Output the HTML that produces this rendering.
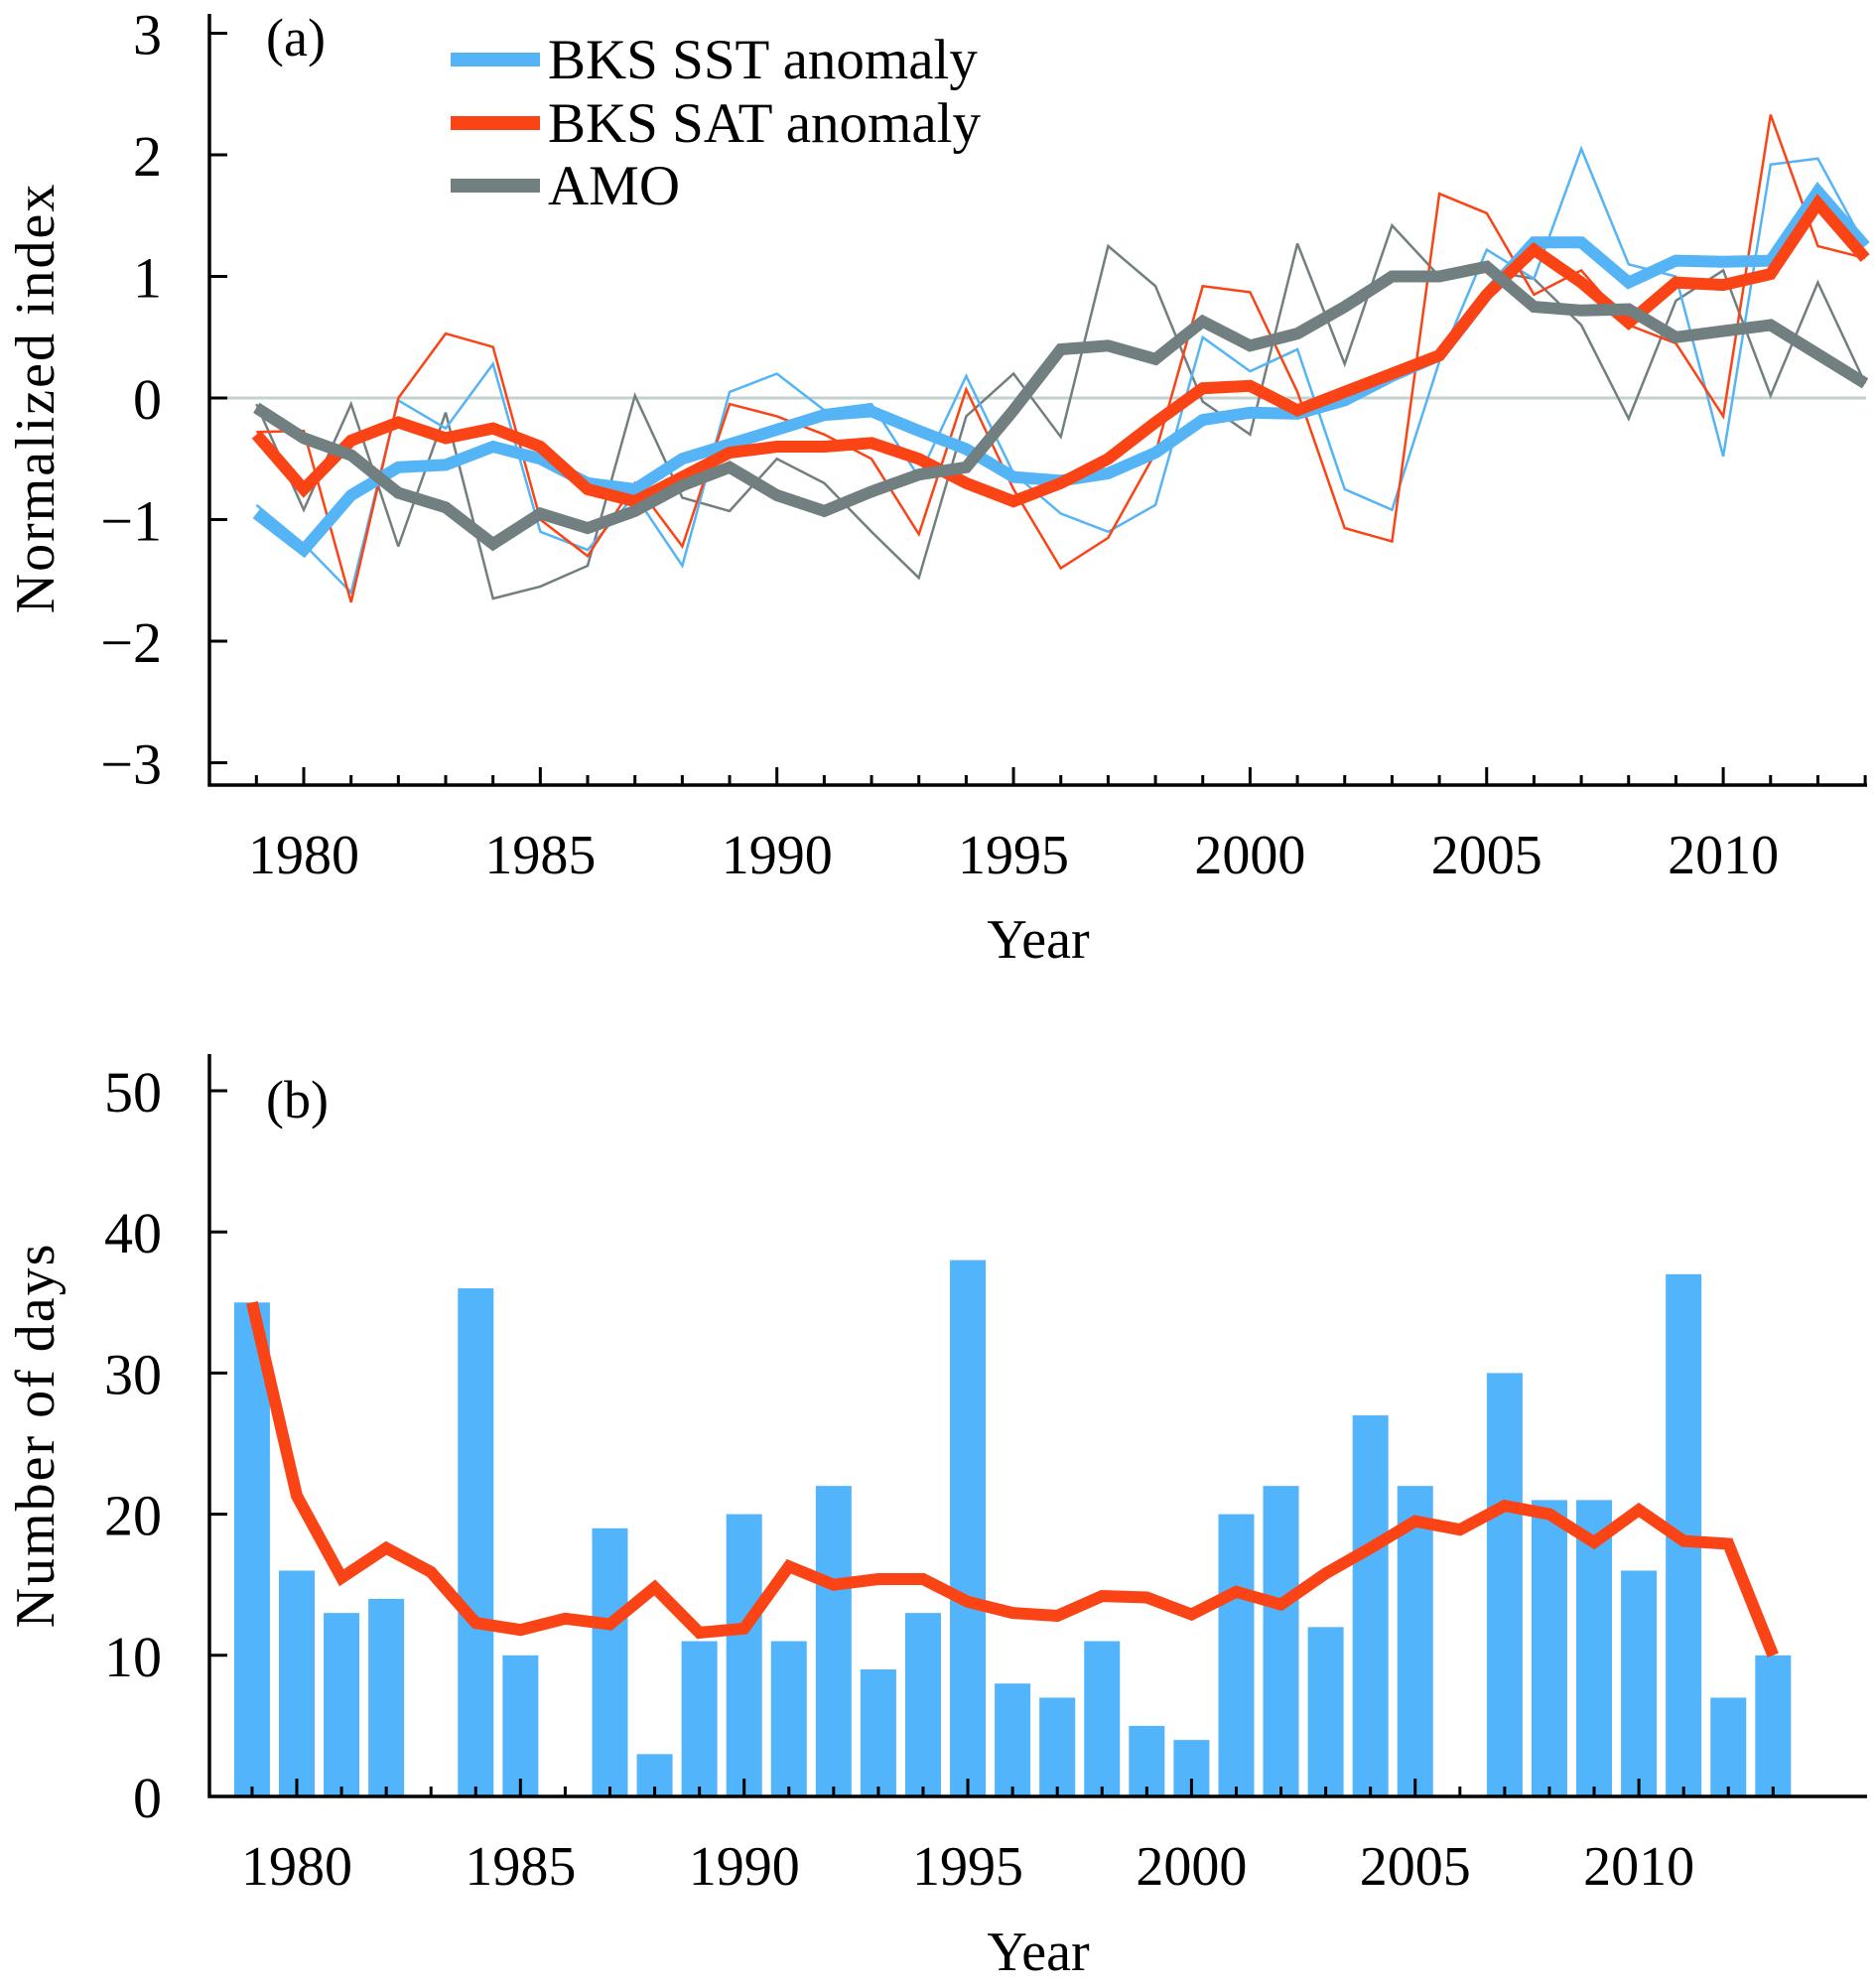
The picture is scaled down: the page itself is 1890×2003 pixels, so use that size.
<!DOCTYPE html>
<html><head><meta charset="utf-8"><style>
html,body{margin:0;padding:0;background:#fff}
svg{display:block}
text{font-family:"Liberation Serif",serif;fill:#000}
</style></head><body>
<svg id="chart" width="1890" height="2003" viewBox="0 0 1890 2003" xmlns="http://www.w3.org/2000/svg">
<g id="pa"></g>
<g id="pb"></g>
</svg>
<script>
const years = [];
for (let y = 1979; y <= 2013; y++) years.push(y);
const sstThin = [-0.88,-1.2,-1.6,-0.02,-0.25,0.28,-1.1,-1.25,-0.8,-1.38,0.05,0.2,-0.1,-0.05,-0.65,0.18,-0.62,-0.95,-1.1,-0.88,0.5,0.22,0.4,-0.75,-0.92,0.3,1.22,0.98,2.05,1.1,1.0,-0.48,1.92,1.97,1.25];
const satThin = [-0.28,-0.27,-1.68,0.0,0.53,0.42,-1.0,-1.3,-0.7,-1.22,-0.05,-0.15,-0.3,-0.5,-1.12,0.07,-0.75,-1.4,-1.15,-0.45,0.92,0.87,0.05,-1.07,-1.18,1.68,1.52,0.85,1.05,0.6,0.45,-0.15,2.33,1.25,1.15];
const amoThin = [-0.05,-0.92,-0.05,-1.22,-0.12,-1.65,-1.55,-1.38,0.02,-0.82,-0.93,-0.5,-0.7,-1.1,-1.48,-0.15,0.2,-0.32,1.25,0.92,-0.03,-0.3,1.27,0.28,1.42,1.0,1.05,0.98,0.6,-0.17,0.8,1.05,0.02,0.95,0.12];
const sstThick = [-0.95,-1.25,-0.8,-0.57,-0.55,-0.4,-0.5,-0.7,-0.75,-0.5,-0.38,-0.26,-0.14,-0.11,-0.27,-0.42,-0.65,-0.68,-0.62,-0.45,-0.18,-0.12,-0.13,-0.02,0.18,0.35,0.85,1.28,1.28,0.95,1.13,1.12,1.13,1.7,1.25];
const satThick = [-0.3,-0.75,-0.35,-0.2,-0.33,-0.25,-0.4,-0.75,-0.85,-0.65,-0.45,-0.4,-0.4,-0.37,-0.5,-0.7,-0.85,-0.7,-0.5,-0.2,0.08,0.1,-0.1,0.05,0.2,0.35,0.85,1.22,0.95,0.62,0.95,0.93,1.02,1.6,1.15];
const amoThick = [-0.08,-0.33,-0.47,-0.78,-0.9,-1.2,-0.95,-1.07,-0.93,-0.72,-0.57,-0.8,-0.93,-0.77,-0.63,-0.57,-0.1,0.4,0.43,0.32,0.63,0.43,0.53,0.75,1.0,1.0,1.08,0.75,0.72,0.73,0.5,0.55,0.6,0.36,0.12];
const yTicksA = [3,2,1,0,-1,-2,-3];
const yTickLabelsA = ["3","2","1","0","\u22121","\u22122","\u22123"];
const xTickLabels = [1980,1985,1990,1995,2000,2005,2010];
const days = [35,16,13,14,0,36,10,0,19,3,11,20,11,22,9,13,38,8,7,11,5,4,20,22,12,27,22,0,30,21,21,16,37,7,10];
const daysSmooth = [35,21.3,15.5,17.6,15.9,12.3,11.8,12.6,12.2,14.8,11.6,11.9,16.3,15.0,15.4,15.4,13.8,13.0,12.8,14.2,14.1,12.9,14.5,13.6,15.8,17.6,19.5,18.9,20.6,20.0,18.0,20.3,18.1,17.9,10];
const yTicksB = [0,10,20,30,40,50];

const NS = "http://www.w3.org/2000/svg";
function mk(parent, tag, attrs, txt) {
  const e = document.createElementNS(NS, tag);
  for (const k in attrs) e.setAttribute(k, attrs[k]);
  if (txt !== undefined) e.textContent = txt;
  parent.appendChild(e);
  return e;
}
const BLUE = "#55b4f5", RED = "#fa4416", GRAY = "#727f80";

// Panel A
const pa = document.getElementById("pa");
const xa = y => 306 + (y - 1980) * 47.67;
const ya = v => 401 - v * 122.5;
let el = mk(pa, "line", {x1: 211, y1: 401, x2: 1880, y2: 401, stroke: "#c3d2cf", "stroke-width": 3});


function series(g, arr, color, w, name) {
  const p = mk(g, "polyline", {points: arr.map((v, i) => xa(years[i]).toFixed(1) + "," + ya(v).toFixed(1)).join(" "), fill: "none", stroke: color, "stroke-width": w, "stroke-linejoin": "miter", "stroke-miterlimit": 3});
  
  
}
series(pa, amoThin, GRAY, 2.5, 'amo-annual-line');
series(pa, sstThin, BLUE, 2.5, 'sst-annual-line');
series(pa, satThin, RED, 2.5, 'sat-annual-line');
series(pa, sstThick, BLUE, 12, 'sst-smoothed-line');
series(pa, satThick, RED, 12, 'sat-smoothed-line');
series(pa, amoThick, GRAY, 12, 'amo-smoothed-line');
el = mk(pa, "path", {d: "M211,14 V791 H1881", fill: "none", stroke: "#000", "stroke-width": 3.5});


yTicksA.forEach((v, i) => {
  const t = mk(pa, "line", {x1: 211, x2: 229, y1: ya(v), y2: ya(v), stroke: "#000", "stroke-width": 3});
  
  
  const l = mk(pa, "text", {x: 163, y: ya(v) + 21, "font-size": 58, "text-anchor": "end"}, yTickLabelsA[i]);
  
  
});
years.forEach(y => {
  const major = y % 5 === 0;
  const t = mk(pa, "line", {x1: xa(y), x2: xa(y), y1: 791, y2: major ? 773 : 781, stroke: "#000", "stroke-width": 3});
  
  
});
xTickLabels.forEach(y => {
  const l = mk(pa, "text", {x: xa(y), y: 880, "font-size": 56, "text-anchor": "middle"}, String(y));
  
  
});
el = mk(pa, "text", {x: 1046, y: 965, "font-size": 56, "text-anchor": "middle"}, "Year");


el = mk(pa, "text", {x: 0, y: 0, "font-size": 56, "text-anchor": "middle", "letter-spacing": "2", transform: "translate(54,401) rotate(-90)"}, "Normalized index");


el = mk(pa, "text", {x: 268, y: 56, "font-size": 54}, "(a)");


const legend = [["BKS SST anomaly", BLUE, 60], ["BKS SAT anomaly", RED, 124], ["AMO", GRAY, 187]];
legend.forEach(([txt, c, y]) => {
  const g = mk(pa, "g", {});
  
  
  mk(g, "line", {x1: 454, x2: 544, y1: y, y2: y, stroke: c, "stroke-width": 14});
  mk(g, "text", {x: 552, y: y + 19, "font-size": 57}, txt);
});

// Panel B
const pb = document.getElementById("pb");
const xb = y => 299 + (y - 1980) * 45.07;
const yb = v => 1810 - v * 14.22;
days.forEach((v, i) => {
  if (v <= 0) return;
  const r = mk(pb, "rect", {x: xb(years[i]) - 18, y: yb(v), width: 36, height: yb(0) - yb(v), fill: "#52b4fb"});
  
  
});
el = mk(pb, "polyline", {points: daysSmooth.map((v, i) => xb(years[i]).toFixed(1) + "," + yb(v).toFixed(1)).join(" "), fill: "none", stroke: RED, "stroke-width": 12, "stroke-linejoin": "miter", "stroke-miterlimit": 3});


el = mk(pb, "path", {d: "M211,1062 V1810 H1881", fill: "none", stroke: "#000", "stroke-width": 3.5});


yTicksB.forEach(v => {
  const t = mk(pb, "line", {x1: 211, x2: 229, y1: yb(v), y2: yb(v), stroke: "#000", "stroke-width": 3});
  
  
  const l = mk(pb, "text", {x: 163, y: yb(v) + 21, "font-size": 58, "text-anchor": "end"}, String(v));
  
  
});
years.forEach(y => {
  const major = y % 5 === 0;
  const t = mk(pb, "line", {x1: xb(y), x2: xb(y), y1: 1810, y2: major ? 1792 : 1800, stroke: "#000", "stroke-width": 3});
  
  
});
xTickLabels.forEach(y => {
  const l = mk(pb, "text", {x: xb(y), y: 1899, "font-size": 56, "text-anchor": "middle"}, String(y));
  
  
});
el = mk(pb, "text", {x: 1046, y: 1985, "font-size": 56, "text-anchor": "middle"}, "Year");


el = mk(pb, "text", {x: 0, y: 0, "font-size": 56, "text-anchor": "middle", "letter-spacing": "2", transform: "translate(54,1446) rotate(-90)"}, "Number of  days");


el = mk(pb, "text", {x: 268, y: 1126, "font-size": 54}, "(b)");


</script>
</body></html>
